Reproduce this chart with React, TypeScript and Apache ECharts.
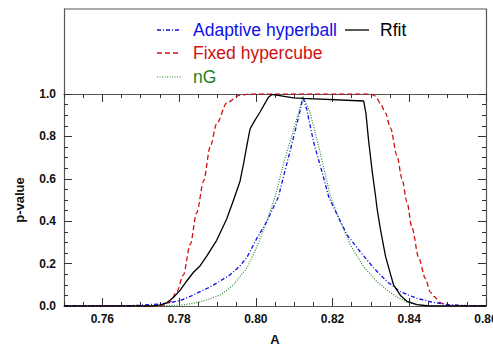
import React, { useEffect, useRef } from "react";
import * as echarts from "echarts";

// ---- data (A, p-value) ----
const adaptiveHyperball: number[][] = [
  [0.75, 0], [0.765, 0], [0.7698, 0.004], [0.7751, 0.01], [0.7777, 0.016], [0.7803, 0.026],
  [0.7829, 0.045], [0.7855, 0.068], [0.7881, 0.09], [0.7907, 0.118], [0.7933, 0.147],
  [0.7959, 0.19], [0.7977, 0.23], [0.8003, 0.32], [0.8029, 0.4], [0.8059, 0.515],
  [0.8072, 0.61], [0.8085, 0.7], [0.8103, 0.83], [0.8116, 0.925], [0.8123, 0.985],
  [0.8133, 0.925], [0.8151, 0.77], [0.8173, 0.63], [0.819, 0.515], [0.8212, 0.43],
  [0.8238, 0.335], [0.8272, 0.256], [0.8307, 0.18], [0.8342, 0.115], [0.8377, 0.067],
  [0.842, 0.036], [0.8455, 0.02], [0.8499, 0.007], [0.855, 0.002], [0.86, 0],
];

const fixedHypercube: number[][] = [
  [0.75, 0], [0.775, 0], [0.7763, 0.005], [0.7777, 0.02], [0.7794, 0.067], [0.7811, 0.146],
  [0.7829, 0.29], [0.7846, 0.44], [0.7864, 0.59], [0.7881, 0.75], [0.7898, 0.86],
  [0.7925, 0.96], [0.7959, 0.995], [0.7985, 1.0], [0.8299, 1.0], [0.8312, 0.99],
  [0.8325, 0.955], [0.8338, 0.91], [0.8351, 0.84], [0.8368, 0.71], [0.8381, 0.6],
  [0.8394, 0.49], [0.8407, 0.37], [0.8425, 0.225], [0.8442, 0.13], [0.8455, 0.065],
  [0.8464, 0.045], [0.8481, 0.015], [0.8499, 0.003], [0.852, 0], [0.86, 0],
];

const nG: number[][] = [
  [0.75, 0], [0.772, 0], [0.7803, 0.004], [0.7829, 0.01], [0.7855, 0.02], [0.7881, 0.034],
  [0.7907, 0.052], [0.7925, 0.075], [0.7942, 0.1], [0.7959, 0.14], [0.7977, 0.18],
  [0.8003, 0.28], [0.8029, 0.4], [0.8051, 0.52], [0.8072, 0.67], [0.8098, 0.83],
  [0.8116, 0.94], [0.8123, 0.99], [0.8142, 0.91], [0.8168, 0.72], [0.8194, 0.52],
  [0.822, 0.4], [0.8246, 0.29], [0.8281, 0.185], [0.8316, 0.115], [0.8342, 0.075],
  [0.8368, 0.042], [0.8394, 0.018], [0.842, 0.006], [0.846, 0.001], [0.85, 0], [0.86, 0],
];

const rfit: number[][] = [
  [0.75, 0], [0.7732, 0], [0.7751, 0.005], [0.7768, 0.015], [0.7785, 0.04], [0.7803, 0.075],
  [0.782, 0.118], [0.7837, 0.158], [0.7855, 0.19], [0.7872, 0.235], [0.7898, 0.31],
  [0.7924, 0.41], [0.7942, 0.5], [0.7959, 0.59], [0.7968, 0.67], [0.7977, 0.76],
  [0.7985, 0.835], [0.7994, 0.865], [0.8011, 0.915], [0.8033, 0.985], [0.8042, 0.998],
  [0.8098, 0.982], [0.8124, 0.979], [0.8281, 0.967], [0.8287, 0.91], [0.8294, 0.78],
  [0.8303, 0.64], [0.8312, 0.52], [0.8316, 0.46], [0.8325, 0.36], [0.8338, 0.235],
  [0.8351, 0.15], [0.8359, 0.1], [0.8377, 0.05], [0.8394, 0.022], [0.842, 0.006],
  [0.845, 0], [0.86, 0],
];

// tick positions along A (every 0.005); labelled/major ticks are 0.76, 0.78, ... 0.86
const xTickValues = [
  "0.750", "0.755", "0.760", "0.765", "0.770", "0.775", "0.780", "0.785", "0.790", "0.795",
  "0.800", "0.805", "0.810", "0.815", "0.820", "0.825", "0.830", "0.835", "0.840", "0.845",
  "0.850", "0.855", "0.860",
];
const xRange = [0.75, 0.86];
const yRange = [0, 1];

const legendItems = [
  { name: "Adaptive hyperball", color: "#1010e8", dash: [4, 2, 1, 2], width: 1.3, col: 0, row: 0 },
  { name: "Rfit", color: "#000000", dash: null, width: 1.3, col: 1, row: 0 },
  { name: "Fixed hypercube", color: "#d01010", dash: [5, 3], width: 1.3, col: 0, row: 1 },
  { name: "nG", color: "#1f7f1f", dash: [1, 1.5], width: 1.1, col: 0, row: 2 },
];

const FONT = "'Liberation Sans', Arial, Helvetica, sans-serif";

export default function App() {
  const ref = useRef<HTMLDivElement>(null);
  useEffect(() => {
    if (!ref.current) return;
    const chart = echarts.init(ref.current, undefined, { renderer: "svg" });
    const axisColor = "#555";
    const tickColor = "#333";
    const labelStyle = { fontFamily: FONT, fontWeight: "bold" as const, fontSize: 12, color: "#111" };
    const isMajor = (i: number) => i % 4 === 2;
    const every = (_i: number) => true;

    // category tick axes over the A range (boundaryGap false => first/last category at the plot edges)
    const tickX = (gridIndex: number, inside: boolean, major: boolean, withLine: boolean, labels: boolean) => ({
      gridIndex, type: "category", position: "bottom", boundaryGap: false, data: xTickValues,
      axisLine: { show: withLine, lineStyle: { color: axisColor, width: 1.2 } },
      axisTick: { show: true, inside, length: major ? 8 : 4, interval: major ? isMajor : every, lineStyle: { color: tickColor, width: 1 } },
      axisLabel: labels
        ? { show: true, interval: isMajor, formatter: (v: string) => Number(v).toFixed(2), margin: 7, ...labelStyle }
        : { show: false },
      splitLine: { show: false },
      ...(labels
        ? { name: "A", nameLocation: "middle", nameGap: 27, nameTextStyle: { ...labelStyle, fontSize: 13 } }
        : {}),
    });
    const yAx = (position: "left" | "right", labels: boolean) => ({
      gridIndex: 0, type: "value", position, min: yRange[0], max: yRange[1], interval: 0.2,
      axisLine: { show: true, lineStyle: { color: axisColor, width: 1.2 } },
      axisTick: { show: true, inside: true, length: 8, lineStyle: { color: tickColor, width: 1 } },
      minorTick: { show: true, splitNumber: 4, length: 4, lineStyle: { color: tickColor, width: 1 } },
      axisLabel: labels
        ? { show: true, formatter: (v: number) => v.toFixed(1), margin: 8, ...labelStyle }
        : { show: false },
      splitLine: { show: false }, minorSplitLine: { show: false },
      ...(labels
        ? { name: "p-value", nameLocation: "middle", nameGap: 38, nameRotate: 90, nameTextStyle: { ...labelStyle, fontSize: 13 } }
        : {}),
    });

    const legendGraphics: any[] = [];
    legendItems.forEach((it) => {
      const x0 = it.col === 0 ? 157 : 345;
      const tx = it.col === 0 ? 193 : 380;
      const y = [30, 53, 77][it.row];
      legendGraphics.push({
        type: "line", shape: { x1: x0, y1: y, x2: x0 + 24, y2: y },
        style: { stroke: it.color, lineWidth: it.width, lineDash: it.dash || undefined },
      });
      legendGraphics.push({
        type: "text", x: tx, y,
        style: { text: it.name, fill: it.color, font: `17.5px ${FONT}`, verticalAlign: "middle", align: "left" },
      });
    });

    const seriesCommon = { type: "line", showSymbol: false, symbol: "none", xAxisIndex: 0, yAxisIndex: 0 };

    chart.setOption({
      animation: false,
      backgroundColor: "#ffffff",
      grid: [
        { left: 64, right: 7, top: 94, bottom: 41, outerBoundsMode: "none" },
        // legend box above the plot; its bottom edge is the plot's top edge
        { left: 64, right: 7, top: 9, height: 85, outerBoundsMode: "none" },
      ],
      xAxis: [
        {
          gridIndex: 0, type: "value", position: "bottom", min: xRange[0], max: xRange[1],
          axisLine: { show: true, lineStyle: { color: axisColor, width: 1.2 } },
          axisTick: { show: false }, axisLabel: { show: false }, splitLine: { show: false },
        },
        tickX(0, true, false, false, false),
        tickX(0, true, true, false, true),
        tickX(1, false, false, true, false),
        tickX(1, false, true, false, false),
      ],
      yAxis: [
        yAx("left", true),
        yAx("right", false),
        {
          gridIndex: 1, type: "value", position: "left", min: 0, max: 1,
          axisLine: { show: true, lineStyle: { color: axisColor, width: 1.2 } },
          axisTick: { show: false }, axisLabel: { show: false }, splitLine: { show: false },
        },
        {
          gridIndex: 1, type: "value", position: "right", min: 0, max: 1,
          axisLine: { show: true, lineStyle: { color: axisColor, width: 1.2 } },
          axisTick: { show: false }, axisLabel: { show: false }, splitLine: { show: false },
        },
      ],
      graphic: [
        {
          type: "line", shape: { x1: 64, y1: 9, x2: 486, y2: 9 },
          style: { stroke: axisColor, lineWidth: 1.2 }, silent: true,
        },
        ...legendGraphics,
      ],
      series: [
        { ...seriesCommon, name: "Fixed hypercube", data: fixedHypercube, smooth: 0.3, smoothMonotone: "x",
          lineStyle: { color: "#d01010", width: 1.3, type: [5, 3] } },
        { ...seriesCommon, name: "nG", data: nG,
          lineStyle: { color: "#1f7f1f", width: 1.1, type: [1, 1.5] } },
        { ...seriesCommon, name: "Adaptive hyperball", data: adaptiveHyperball,
          lineStyle: { color: "#1010e8", width: 1.3, type: [4, 2, 1, 2] } },
        { ...seriesCommon, name: "Rfit", data: rfit,
          lineStyle: { color: "#000000", width: 1.3, type: "solid" } },
      ],
    });
    return () => chart.dispose();
  }, []);
  return <div ref={ref} style={{ width: 493, height: 347, position: "absolute", left: 0, top: 0 }} />;
}
